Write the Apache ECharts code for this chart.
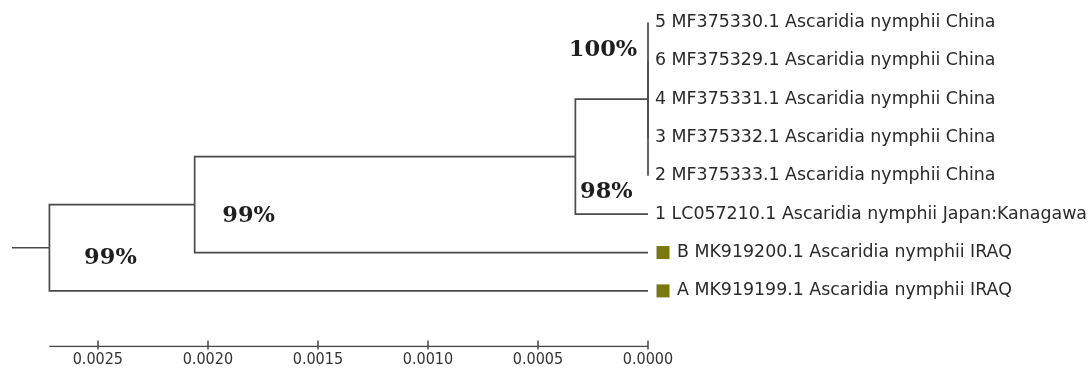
<!DOCTYPE html>
<html><head><meta charset="utf-8">
<script src="https://cdn.jsdelivr.net/npm/echarts@6/dist/echarts.min.js"></script>
<style>html,body{margin:0;padding:0;background:#fff}#c{width:1091px;height:369px}</style>
</head><body><div id="c"></div>
<script>
// ---- data ----
const leafLabels = [
  '5 MF375330.1 Ascaridia nymphii China',
  '6 MF375329.1 Ascaridia nymphii China',
  '4 MF375331.1 Ascaridia nymphii China',
  '3 MF375332.1 Ascaridia nymphii China',
  '2 MF375333.1 Ascaridia nymphii China',
  '1 LC057210.1 Ascaridia nymphii Japan:Kanagawa',
  'B MK919200.1 Ascaridia nymphii IRAQ',
  'A MK919199.1 Ascaridia nymphii IRAQ'
];
const leafMarkers = ['', '', '', '', '', '', 'square', 'square'];
const leafParents = ['n3', 'n3', 'n3', 'n3', 'n3', 'n2', 'n1', 'root'];
const leafHeights = [0, 0, 0, 0, 0, 0, 0, 0];
const nodeNames = ['root', 'n1', 'n2', 'n3'];
const nodeParents = [null, 'root', 'n1', 'n2'];
const nodeHeights = [0.00272, 0.00206, 0.00033, 0.0];
const nodeSupport = ['99%', '99%', '98%', '100%'];
const rootStubEnd = 0.00289;
const tickValues = [0.0025, 0.0020, 0.0015, 0.0010, 0.0005, 0.0000];

// ---- build tree geometry from data ----
const nodes = {};
nodeNames.forEach((n, i) => nodes[n] = { h: nodeHeights[i], parent: nodeParents[i], children: [] });
leafLabels.forEach((l, i) => nodes['leaf' + i] = { h: leafHeights[i], parent: leafParents[i], children: [], y: i });
Object.keys(nodes).forEach(k => { const p = nodes[k].parent; if (p) nodes[p].children.push(k); });
function yOf(k) {
  const n = nodes[k];
  if (n.y !== undefined) return n.y;
  const ys = n.children.map(yOf);
  n.y = (Math.min(...ys) + Math.max(...ys)) / 2;
  return n.y;
}
Object.keys(nodes).forEach(yOf);

const axisRow = 8.45;
const lineColor = '#4a4a4a';
const edges = [];
Object.keys(nodes).forEach(k => {
  const n = nodes[k];
  if (!n.parent) return;
  const p = nodes[n.parent];
  edges.push({ coords: [[p.h, p.y], [p.h, n.y], [n.h, n.y]] });
});
edges.push({ coords: [[rootStubEnd, nodes.root.y], [nodes.root.h, nodes.root.y]] });
const axisLineData = [{ coords: [[nodes.root.h, axisRow], [0, axisRow]] }];

const supportOffsets = { root: [61, 10], n1: [54, 12], n2: [31, 35], n3: [-45, -49] };

const gridTop = 3.3, gridBottom = 22.5;
const xBase = {
  type: 'value', min: 0, max: rootStubEnd, inverse: true, position: 'bottom',
  splitLine: { show: false }, axisLine: { show: false, onZero: false }
};

const chart = echarts.init(document.getElementById('c'), null, { renderer: 'canvas' });
chart.setOption({
  animation: false,
  backgroundColor: '#fff',
  grid: { left: 12, right: 443, top: gridTop, bottom: gridBottom, containLabel: false },
  xAxis: [
    Object.assign({}, xBase, {
      axisTick: { show: true, inside: false, length: 3, customValues: tickValues, lineStyle: { color: lineColor, width: 1.5 } },
      axisLabel: {
        show: true, customValues: tickValues, margin: 5,
        formatter: v => v.toFixed(4),
        color: '#333', fontSize: 16, fontFamily: "'Liberation Sans Narrow', 'DejaVu Sans Condensed', 'Liberation Sans', sans-serif"
      }
    }),
    Object.assign({}, xBase, {
      axisTick: { show: true, inside: true, length: 6, customValues: tickValues, lineStyle: { color: lineColor, width: 1.5 } },
      axisLabel: { show: false }
    })
  ],
  yAxis: { type: 'value', inverse: true, min: -0.5, max: axisRow, show: false, axisLine: { onZero: false } },
  series: [
    {
      type: 'lines', coordinateSystem: 'cartesian2d', polyline: true, silent: true,
      lineStyle: { color: lineColor, width: 1.7, opacity: 1 },
      data: edges.concat(axisLineData)
    },
    {
      type: 'scatter', symbolSize: 0, silent: true,
      itemStyle: { opacity: 1 },
      data: leafLabels.map((l, i) => ({
        name: l, value: [leafHeights[i], i],
        label: { distance: leafMarkers[i] === 'square' ? 29 : 7 }
      })),
      label: {
        show: true, position: 'right', formatter: p => p.name,
        color: '#2a2a2a', fontSize: 17.4, fontFamily: "'DejaVu Sans', sans-serif"
      }
    },
    {
      type: 'scatter', symbol: 'rect', symbolSize: 13, symbolOffset: [15, 0], silent: true,
      itemStyle: { color: '#7a7810', opacity: 1 },
      data: leafLabels.map((l, i) => leafMarkers[i] === 'square' ? [leafHeights[i], i] : null).filter(d => d)
    },
    {
      type: 'scatter', symbolSize: 0, silent: true,
      itemStyle: { opacity: 1 },
      data: nodeNames.map((n, i) => ({
        name: nodeSupport[i], value: [nodes[n].h, nodes[n].y],
        label: { offset: supportOffsets[n] }
      })),
      label: {
        show: true, position: 'inside', formatter: p => p.name,
        color: '#1e1e1e', fontSize: 22.5, fontWeight: 'bold', fontFamily: "'DejaVu Serif', serif"
      }
    }
  ]
});
</script>
</body></html>
